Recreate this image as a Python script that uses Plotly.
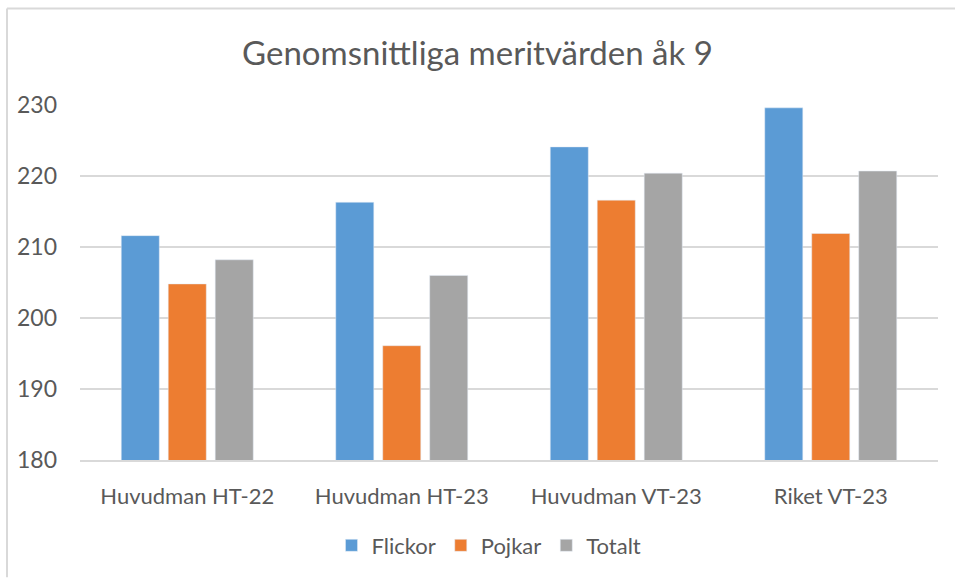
import plotly.graph_objects as go

# data
categories = ["Huvudman HT-22", "Huvudman HT-23", "Huvudman VT-23", "Riket VT-23"]
flickor = [211.6, 216.3, 224.1, 229.6]
pojkar = [204.8, 196.1, 216.6, 211.9]
totalt = [208.2, 206.0, 220.4, 220.7]
y_ticks = [180, 190, 200, 210, 220, 230]

W, H = 955, 579
L, R, T, B = 80, 17, 105, 117
FONT = "Lato"
TXT = "#595959"
GRID = "#D9D9D9"


def px_x(x):
    return (x - L) / (W - L - R)


def px_y(y):
    return (H - B - y) / (H - T - B)


fig = go.Figure()
fig.add_bar(name="Flickor", x=categories, y=flickor, marker_color="#5B9BD5")
fig.add_bar(name="Pojkar", x=categories, y=pojkar, marker_color="#ED7D31")
fig.add_bar(name="Totalt", x=categories, y=totalt, marker_color="#A5A5A5")

# light frame around the chart (left and top edges are visible)
fig.add_shape(type="line", xref="paper", yref="paper",
              x0=px_x(7), x1=px_x(956), y0=px_y(8), y1=px_y(8),
              line=dict(color=GRID, width=2))
fig.add_shape(type="line", xref="paper", yref="paper",
              x0=px_x(7), x1=px_x(7), y0=px_y(8), y1=px_y(580),
              line=dict(color=GRID, width=2))

fig.update_layout(
    width=W, height=H,
    margin=dict(l=L, r=R, t=T, b=B),
    paper_bgcolor="white", plot_bgcolor="white",
    font=dict(family=FONT, color=TXT, size=22),
    title=dict(text="Genomsnittliga meritvärden åk 9", x=0.5, xanchor="center",
               y=1 - 53 / H, yanchor="middle",
               font=dict(size=33, color=TXT, family=FONT)),
    barmode="group", bargap=0.343, bargroupgap=0.19,
    showlegend=True,
    legend=dict(orientation="h", x=px_x(489), xanchor="center",
                y=px_y(548), yanchor="middle",
                font=dict(size=22, color=TXT), itemwidth=30, traceorder="normal"),
    xaxis=dict(showgrid=False, showline=True, linecolor=GRID, linewidth=2,
               ticks="", ticklabelstandoff=16, tickfont=dict(size=22, color=TXT)),
    yaxis=dict(range=[180, 230], tickvals=y_ticks, showgrid=True, gridcolor=GRID,
               gridwidth=2, zeroline=False, showline=False, ticks="",
               ticklabelstandoff=22, tickfont=dict(size=23, color=TXT)),
)

# the page body has a default margin; drop it so the figure fills the window
fig.write_html("out.html", config={"displayModeBar": False},
               post_script="document.body.style.margin='0';")
